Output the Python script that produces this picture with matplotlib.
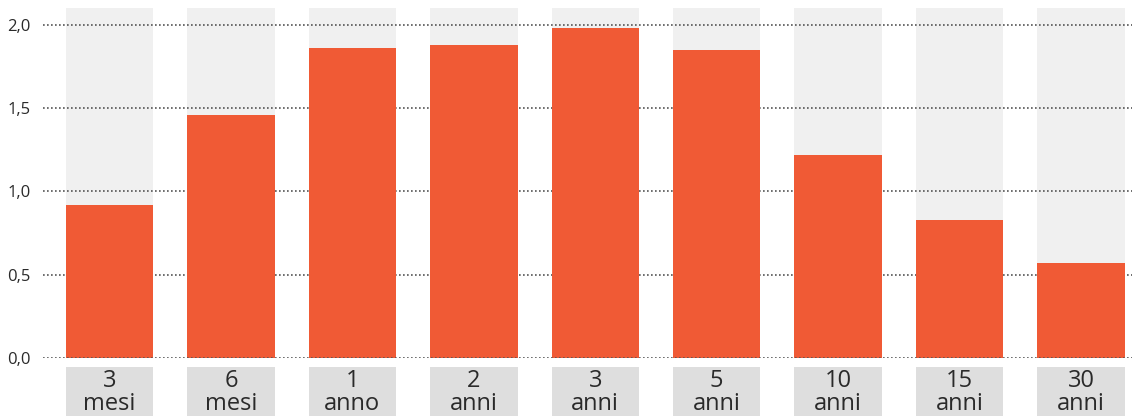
import matplotlib.pyplot as plt
from matplotlib.patches import Rectangle
from matplotlib.transforms import blended_transform_factory

# data
numbers = ["3", "6", "1", "2", "3", "5", "10", "15", "30"]
units = ["mesi", "mesi", "anno", "anni", "anni", "anni", "anni", "anni", "anni"]
values = [0.92, 1.46, 1.86, 1.88, 1.98, 1.85, 1.22, 0.83, 0.57]
yticks = [0.0, 0.5, 1.0, 1.5, 2.0]
ytick_labels = ["0,0", "0,5", "1,0", "1,5", "2,0"]

ORANGE = "#f05a35"
BG = "#f0f0f0"
LABEL_BG = "#dedede"
TEXT = "#2a2a2a"

plt.rcParams["font.family"] = ["Open Sans", "DejaVu Sans"]

fig = plt.figure(figsize=(11.32, 4.16), dpi=100)
ax = fig.add_axes([43 / 1132, 58 / 416, 1 - 43 / 1132, 350 / 416])

x = list(range(len(values)))
ymax = 2.1
width = 0.72

# light background columns
ax.bar(x, [ymax] * len(x), width=width, color=BG, zorder=0)
# dotted grid lines
for t in yticks:
    ax.axhline(t, color="#555555", lw=1.2, ls=(0, (1, 1.4)),
               zorder=3 if t == 0 else 1)
ax.bar(x, values, width=width, color=ORANGE, zorder=2)

ax.set_xlim(-0.548, 8.42)
ax.set_ylim(0, ymax)
ax.set_yticks(yticks)
ax.set_yticklabels(ytick_labels, fontsize=12, color=TEXT)
ax.tick_params(axis="y", length=0, pad=9)
ax.set_xticks([])
for s in ax.spines.values():
    s.set_visible(False)

# category label boxes below the axis
trans = blended_transform_factory(ax.transData, fig.transFigure)
for i, (n, u) in enumerate(zip(numbers, units)):
    ax.add_patch(Rectangle((i - width / 2, -0.05), width, 49 / 416 + 0.05,
                           transform=trans, facecolor=LABEL_BG,
                           edgecolor="none", clip_on=False))
    ax.text(i, 35 / 416, n, transform=trans, ha="center", va="center",
            fontsize=17, color=TEXT)
    ax.text(i, 12 / 416, u, transform=trans, ha="center", va="center",
            fontsize=17, color=TEXT)

fig.savefig("out.png", dpi=100)
